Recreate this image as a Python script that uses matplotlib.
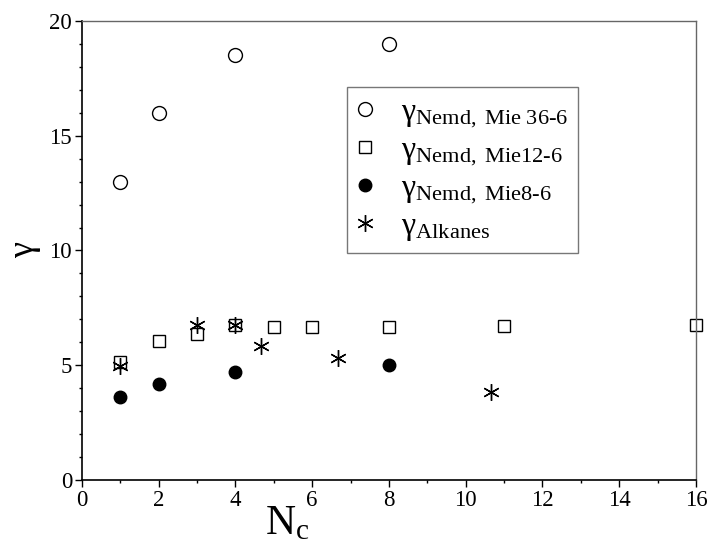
import numpy as np
import matplotlib
matplotlib.use("Agg")
import matplotlib.pyplot as plt

plt.rcParams['font.family'] = ['Liberation Serif', 'DejaVu Serif']
plt.rcParams['mathtext.fontset'] = 'custom'
plt.rcParams['mathtext.rm'] = 'Liberation Serif'
plt.rcParams['mathtext.it'] = 'Liberation Serif:italic'

# data
nc_mie36 = [1, 2, 4, 8]
gamma_mie36 = [13.0, 16.0, 18.5, 19.0]

nc_mie12 = [1, 2, 3, 4, 5, 6, 8, 11, 16]
gamma_mie12 = [5.15, 6.05, 6.35, 6.75, 6.65, 6.65, 6.65, 6.7, 6.75]

nc_mie8 = [1, 2, 4, 8]
gamma_mie8 = [3.6, 4.2, 4.7, 5.0]

nc_alkanes = [1, 3, 4, 4.67, 6.67, 10.67]
gamma_alkanes = [4.95, 6.75, 6.75, 5.85, 5.3, 3.85]

labels = [r'$\mathrm{\gamma}_{\mathrm{Nemd,\ Mie\ 36}\text{-}\mathrm{6}}$',
          r'$\mathrm{\gamma}_{\mathrm{Nemd,\ Mie12}\text{-}\mathrm{6}}$',
          r'$\mathrm{\gamma}_{\mathrm{Nemd,\ Mie8}\text{-}\mathrm{6}}$',
          r'$\mathrm{\gamma}_{\mathrm{Alkanes}}$']

fig = plt.figure(figsize=(7.12, 5.46), dpi=100)
ax = fig.add_axes([0.115, 0.121, 0.8625, 0.8405])

ax.plot(nc_mie36, gamma_mie36, 'o', ms=10, mfc='white', mec='black', mew=1.0, ls='none',
        clip_on=False, label=labels[0])
ax.plot(nc_mie12, gamma_mie12, 's', ms=8.5, mfc='white', mec='black', mew=1.0, ls='none',
        clip_on=False, label=labels[1])
ax.plot(nc_mie8, gamma_mie8, 'o', ms=9, mfc='black', mec='black', ls='none',
        clip_on=False, label=labels[2])
ax.plot(nc_alkanes, gamma_alkanes, marker=(6, 2, 0), ms=12, color='black', mew=1.0, ls='none',
        clip_on=False, label=labels[3])

ax.set_xlim(0, 16)
ax.set_ylim(0, 20)
ax.set_xticks(np.arange(0, 17, 2))
ax.set_xticks(np.arange(1, 16, 2), minor=True)
ax.set_yticks(np.arange(0, 21, 5))
ax.set_yticks(np.arange(0, 21, 1), minor=True)

ax.tick_params(which='both', direction='out', top=False, right=False, labelsize=16.5, pad=2)
ax.tick_params(which='major', length=5, width=1)
ax.tick_params(which='minor', length=2.5, width=1)

for s in ['left', 'bottom']:
    ax.spines[s].set_color('black')
    ax.spines[s].set_linewidth(1.2)
for s in ['top', 'right']:
    ax.spines[s].set_color('#666666')
    ax.spines[s].set_linewidth(1.0)

ax.set_ylabel('γ', fontsize=26, labelpad=6)
ax.set_xlabel(r'N$_\mathrm{c}$', fontsize=30)
ax.xaxis.set_label_coords(0.335, -0.055)

leg = ax.legend(loc='upper left', bbox_to_anchor=(0.432, 0.856), fontsize=23,
                frameon=True, fancybox=False, edgecolor='#555555', borderaxespad=0,
                handletextpad=0.85, labelspacing=0.18, borderpad=0.32, handlelength=0.5)
leg.get_frame().set_linewidth(1.0)

fig.savefig('out.png', dpi=100)
